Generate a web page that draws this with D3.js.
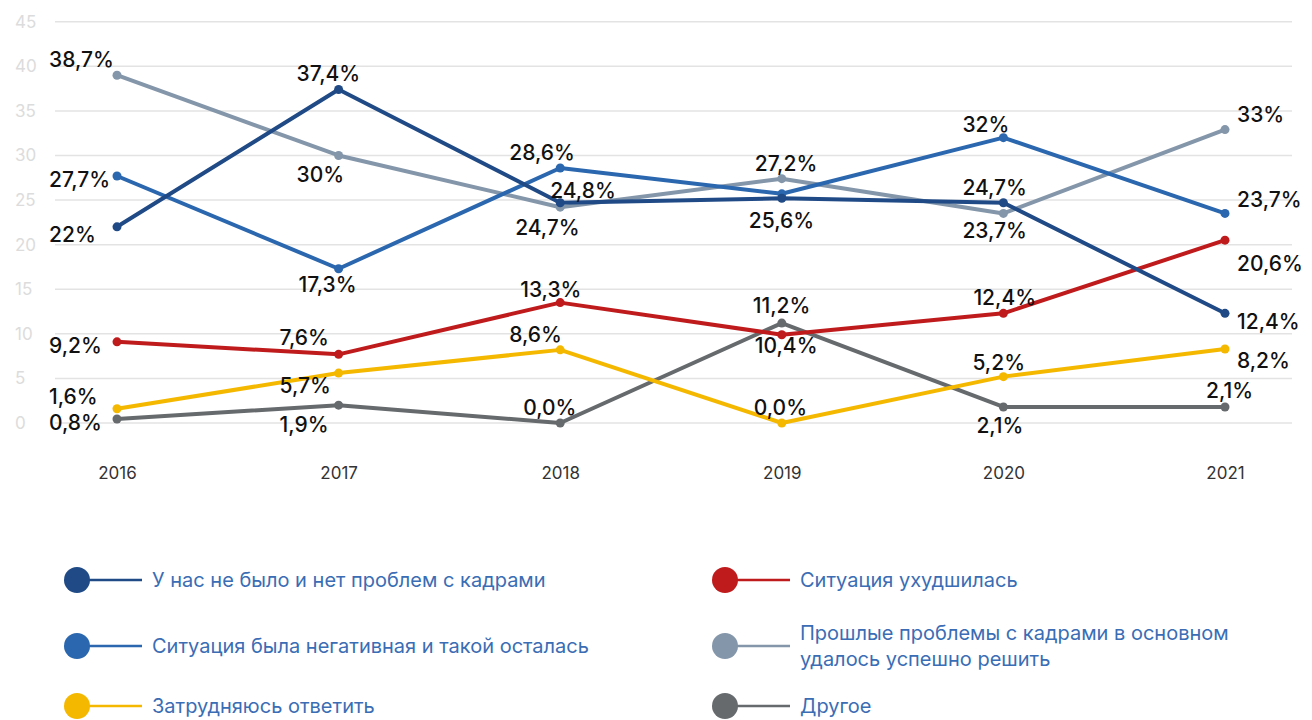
<!DOCTYPE html>
<html>
<head>
<meta charset="utf-8">
<script src="https://cdn.jsdelivr.net/npm/d3@7"></script>
<style>
  html, body { margin: 0; padding: 0; background: #ffffff; }
  svg { display: block; }
</style>
</head>
<body>
<svg id="chart" width="1312" height="720"></svg>
<script>
// ---------- DATA ----------
const years = ["2016", "2017", "2018", "2019", "2020", "2021"];
const yTicks = [0, 5, 10, 15, 20, 25, 30, 35, 40, 45];

const seriesNames = [
  "У нас не было и нет проблем с кадрами",
  "Ситуация была негативная и такой осталась",
  "Затрудняюсь ответить",
  "Ситуация ухудшилась",
  "Прошлые проблемы с кадрами в основном удалось успешно решить",
  "Другое"
];

// plotted values (read from point positions)
const noProblems   = [22.0, 37.4, 24.7, 25.2, 24.7, 12.3];
const stayedBad    = [27.7, 17.3, 28.6, 25.7, 32.0, 23.5];
const hardToSay    = [1.6, 5.6, 8.2, 0.0, 5.2, 8.3];
const worsened     = [9.1, 7.7, 13.5, 9.9, 12.3, 20.5];
const solved       = [39.0, 30.0, 24.2, 27.4, 23.5, 32.9];
const other        = [0.45, 2.0, 0.0, 11.2, 1.8, 1.8];

// data label texts
const noProblemsLabels = ["22%", "37,4%", "24,8%", null, "24,7%", "12,4%"];
const stayedBadLabels  = ["27,7%", "17,3%", "28,6%", "25,6%", "32%", "23,7%"];
const hardToSayLabels  = ["1,6%", "5,7%", "8,6%", "0,0%", "5,2%", "8,2%"];
const worsenedLabels   = ["9,2%", "7,6%", "13,3%", "10,4%", "12,4%", "20,6%"];
const solvedLabels     = ["38,7%", "30%", "24,7%", "27,2%", "23,7%", "33%"];
const otherLabels      = ["0,8%", "1,9%", "0,0%", "11,2%", "2,1%", "2,1%"];

// ---------- STYLE / LAYOUT ----------
const colors = ["#1f4a86", "#2b67ae", "#f5b800", "#bf1b1d", "#8496aa", "#666a6d"];

// label placement: [dx from point to text start, dy from point to baseline]
const labelOffsets = [
  [[-68, 15], [-42, -8], [-10, -5], null, [-41, -8], [12, 16]],
  [[-68, 11], [-40, 23], [-51, -8], [-33, 34], [-41, -6], [12, -6]],
  [[-68, -5], [-59, 20], [-51, -8], [-28, -8], [-31, -7], [12, 19]],
  [[-68, 11], [-59, -9], [-40, -6], [-27, 18], [-30, -8], [12, 31]],
  [[-68, -8], [-42, 27], [-45, 28], [-27, -8], [-41, 25], [12, -8]],
  [[-68, 11], [-59, 27], [-37, -8], [-29, -10], [-27, 26], [-19, -9]]
];

const seriesValues = [noProblems, stayedBad, hardToSay, worsened, solved, other];
const seriesLabels = [noProblemsLabels, stayedBadLabels, hardToSayLabels, worsenedLabels, solvedLabels, otherLabels];

const svg = d3.select("#chart");

const x = d3.scalePoint().domain(years).range([117, 1225]);
const y = d3.scaleLinear().domain([0, 45]).range([423, 21.7]);

// gridlines
const grid = svg.append("g");
grid.selectAll("line")
  .data(yTicks)
  .join("line")
  .attr("x1", 55).attr("x2", 1292)
  .attr("y1", d => y(d)).attr("y2", d => y(d))
  .attr("stroke", "#e3e3e3").attr("stroke-width", 1.5);

// y axis tick labels
const yAxis = svg.append("g").attr("transform", "translate(15,0)")
  .call(d3.axisRight(y).tickValues(yTicks).tickSize(0).tickPadding(0));
yAxis.select(".domain").remove();
yAxis.selectAll("text")
  .attr("fill", "#dcdcdc")
  .attr("font-family", "Inter, Roboto, sans-serif")
  .attr("font-size", 17)
  .attr("text-anchor", "start");

// x axis labels
const xAxis = svg.append("g").attr("transform", "translate(0,474)")
  .call(d3.axisBottom(x).tickSize(0).tickPadding(0));
xAxis.select(".domain").remove();
xAxis.selectAll("text")
  .attr("fill", "#333")
  .attr("font-family", "Inter, Roboto, sans-serif")
  .attr("font-size", 17)
  .attr("dy", "0.32em");

// draw order: back to front
const drawOrder = [4, 5, 2, 3, 1, 0];
const line = d3.line().x((d, i) => x(years[i])).y(d => y(d));

const plot = svg.append("g");
drawOrder.forEach(si => {
  const vals = seriesValues[si];
  const g = plot.append("g");
  g.append("path")
    .datum(vals)
    .attr("d", line)
    .attr("fill", "none")
    .attr("stroke", colors[si])
    .attr("stroke-width", 4)
    .attr("stroke-linejoin", "round");
  g.selectAll("circle")
    .data(vals)
    .join("circle")
    .attr("cx", (d, i) => x(years[i]))
    .attr("cy", d => y(d))
    .attr("r", 4.5)
    .attr("fill", colors[si]);
});

// data labels
const labelsG = svg.append("g")
  .attr("font-family", "Inter, Roboto, sans-serif")
  .attr("font-size", 21)
  .attr("font-weight", 500)
  .attr("fill", "#111");
seriesValues.forEach((vals, si) => {
  vals.forEach((v, i) => {
    const txt = seriesLabels[si][i];
    const off = labelOffsets[si][i];
    if (txt == null || off == null) return;
    labelsG.append("text")
      .attr("x", x(years[i]) + off[0])
      .attr("y", y(v) + off[1])
      .text(txt);
  });
});

// legend
const legendItems = [
  { s: 0, cx: 77, cy: 580, tx: 152, lines: [seriesNames[0]] },
  { s: 1, cx: 77, cy: 646, tx: 152, lines: [seriesNames[1]] },
  { s: 2, cx: 77, cy: 706, tx: 152, lines: [seriesNames[2]] },
  { s: 3, cx: 725, cy: 580, tx: 800, lines: [seriesNames[3]] },
  { s: 4, cx: 725, cy: 646, tx: 800, lines: ["Прошлые проблемы с кадрами в основном", "удалось успешно решить"] },
  { s: 5, cx: 725, cy: 706, tx: 800, lines: [seriesNames[5]] }
];
const legend = svg.append("g");
legendItems.forEach(it => {
  const g = legend.append("g");
  g.append("line")
    .attr("x1", it.cx).attr("x2", it.cx + 65)
    .attr("y1", it.cy).attr("y2", it.cy)
    .attr("stroke", colors[it.s]).attr("stroke-width", 2.5);
  g.append("circle")
    .attr("cx", it.cx).attr("cy", it.cy).attr("r", 13)
    .attr("fill", colors[it.s]);
  const t = g.append("text")
    .attr("font-family", "Inter, Roboto, sans-serif")
    .attr("font-size", 20)
    .attr("fill", "#3a6db4");
  const n = it.lines.length;
  it.lines.forEach((l, k) => {
    t.append("tspan")
      .attr("x", it.tx)
      .attr("y", it.cy + (k - (n - 1) / 2) * 26)
      .attr("dy", "0.35em")
      .text(l);
  });
});
</script>
</body>
</html>
